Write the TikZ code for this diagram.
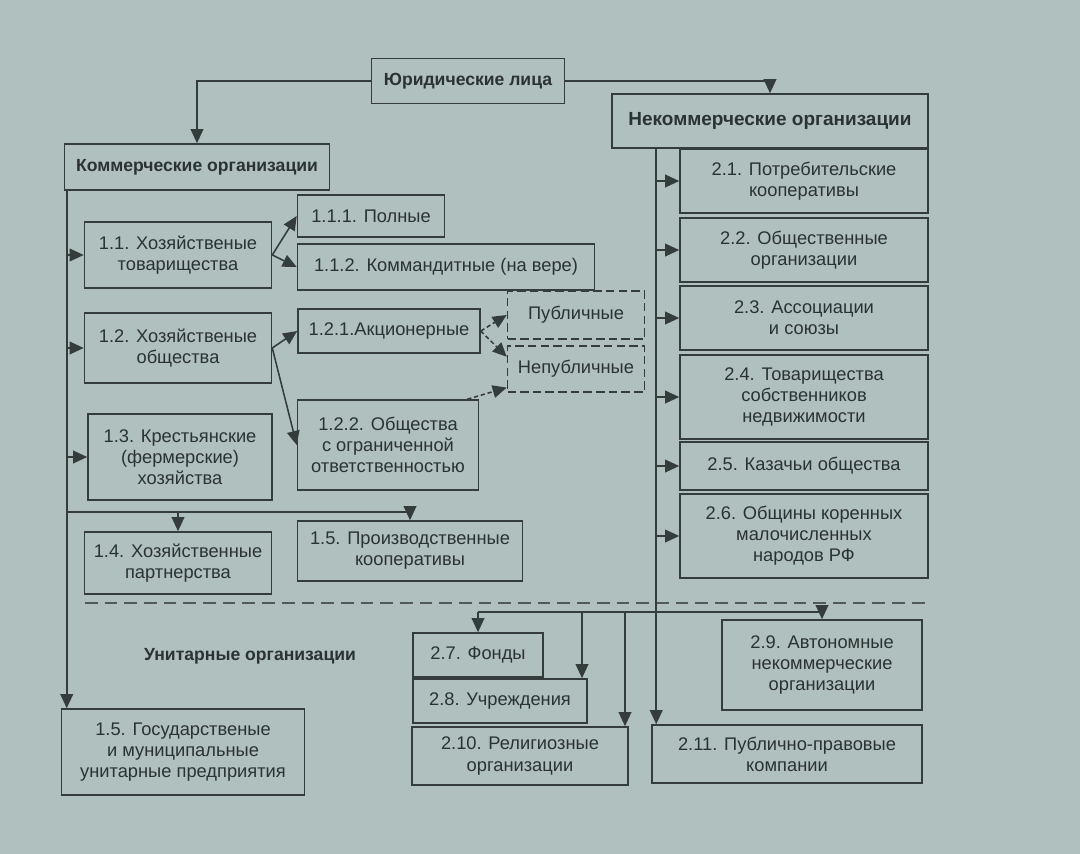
\documentclass[tikz,border=0pt]{standalone}
\usepackage{fontspec}
\setmainfont{Liberation Sans}
\usetikzlibrary{arrows.meta,calc}
\definecolor{paper}{HTML}{AFC0BE}
\definecolor{ink}{HTML}{2A3332}
\definecolor{rule}{HTML}{343D3C}

\begin{document}
\begin{tikzpicture}[
    x=0.025cm, y=-0.025cm,
    font=\fontsize{13}{15}\selectfont,
    org/.style 2 args={rectangle, draw=rule, line width=1.1pt, fill=none,
                       minimum width=#1*0.025cm, minimum height=#2*0.025cm,
                       inner sep=2pt, text=ink, align=center},
    head/.style 2 args={org={#1}{#2}, font=\fontsize{12.5}{15}\selectfont\bfseries},
    dorg/.style 2 args={org={#1}{#2}, dash pattern=on 6pt off 3pt},
    arr/.style={-{Triangle[length=10pt,width=9pt]}, line width=1.1pt, color=rule},
    darr/.style={arr, dash pattern=on 3pt off 2pt},
    sep/.style={line width=1pt, color=rule!85, dash pattern=on 9pt off 5pt}
  ]

% ---------------- page ----------------
\fill[paper] (0,0) rectangle (1080,854);
\useasboundingbox (0,0) rectangle (1080,854);

% ---------------- top level ----------------
\node[head={193}{45}] (jur) at (468,81)  {Юридические лица};
\node[head={265}{46}] (kom) at (197,167) {Коммерческие организации};
\node[head={316}{54}, font=\fontsize{13.5}{15}\selectfont\bfseries] (nek) at (770,121) {Некоммерческие организации};

\draw[arr] (jur.west) -| (kom.north);
\draw[arr] (jur.east) -| (nek.north);

% ---------------- commercial ----------------
\node[org={187}{66}] (b11)  at (178,255) {1.1. Хозяйственые\\товарищества};
\node[org={147}{42}] (b111) at (371,216) {1.1.1. Полные};
\node[org={297}{46}] (b112) at (446,267) {1.1.2. Коммандитные (на вере)};
\node[org={187}{70}] (b12)  at (178,348) {1.2. Хозяйственые\\общества};
\node[org={182}{44}] (b121) at (389,331) {1.2.1.Акционерные};
\node[org={181}{90}] (b122) at (388,445) {1.2.2. Общества\\с ограниченной\\ответственностью};
\node[dorg={137}{48}] (pub)  at (576,315) {Публичные};
\node[dorg={137}{46}] (npub) at (576,369) {Непубличные};
\node[org={184}{86}] (b13)  at (180,457) {1.3. Крестьянские\\(фермерские)\\хозяйства};
\node[org={187}{62}] (b14)  at (178,563) {1.4. Хозяйственные\\партнерства};
\node[org={225}{60}] (b15)  at (410,551) {1.5. Производственные\\кооперативы};

\coordinate (kt) at ($(kom.south west)+(3,0)$);
\coordinate (kh) at (kt |- 0,512);

\foreach \b in {b11,b12,b13}
  \draw[arr] (kt |- \b.west) -- (\b.west);
\draw[arr] (b11.east) -- (b111.west);
\draw[arr] (b11.east) -- (b112.west);
\draw[arr] (b12.east) -- (b121.west);
\draw[arr] (b12.east) -- (b122.west);
\draw[darr] (b121.east) -- (pub.west);
\draw[darr] (b121.east) -- (npub.170);
\draw[darr] (b122.30) -- (npub.195);
\draw[arr] (kh) -| (b15.north);
\draw[arr] (kh -| b14.north) -- (b14.north);

% ---------------- unitary ----------------
\draw[sep] (85,603) -- (925,603);
\node[font=\fontsize{12.5}{15}\selectfont\bfseries, text=ink] (unit) at (250,656) {Унитарные организации};
\node[org={243}{86}] (b15g) at (183,752) {1.5. Государственые\\и муниципальные\\унитарные предприятия};
\draw[arr] (kt) -- (kt |- b15g.north);

% ---------------- non-commercial ----------------
\node[org={248}{64}] (b21) at (804,181) {2.1. Потребительские\\кооперативы};
\node[org={248}{64}] (b22) at (804,250) {2.2. Общественные\\организации};
\node[org={248}{64}] (b23) at (804,318) {2.3. Ассоциации\\и союзы};
\node[org={248}{84}] (b24) at (804,397) {2.4. Товарищества\\собственников\\недвижимости};
\node[org={248}{48}] (b25) at (804,466) {2.5. Казачьи общества};
\node[org={248}{84}] (b26) at (804,536) {2.6. Общины коренных\\малочисленных\\народов РФ};

\node[org={130}{44}] (b27)  at (478,655) {2.7. Фонды};
\node[org={174}{44}] (b28)  at (500,701) {2.8. Учреждения};
\node[org={216}{58}] (b210) at (520,756) {2.10. Религиозные\\организации};
\node[org={200}{90}] (b29)  at (822,665) {2.9. Автономные\\некоммерческие\\организации};
\node[org={270}{58}] (b211) at (787,754) {2.11. Публично-правовые\\компании};

\coordinate (nt) at ($(nek.south west)+(45,0)$);
\coordinate (nh) at (nt |- 0,612);
\coordinate (v28) at (582,612);
\coordinate (v210) at (625,612);

\draw[arr] (nt) -- (nt |- b211.north);
\foreach \b in {b21,b22,b23,b24,b25,b26}
  \draw[arr] (nt |- \b.west) -- (\b.west);

\draw[rule, line width=1.1pt] (nh -| b27.north) -- (nh -| b29.north);
\draw[arr] (nh -| b27.north) -- (b27.north);
\draw[arr] (nh -| b29.north) -- (b29.north);
\draw[arr] (v28) -- (v28 |- b28.north);
\draw[arr] (v210) -- (v210 |- b210.north);

\end{tikzpicture}
\end{document}
